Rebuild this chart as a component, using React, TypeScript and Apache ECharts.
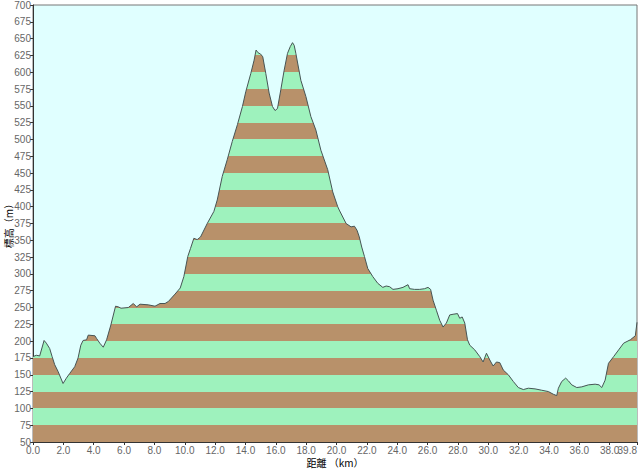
import React, { useEffect, useRef } from "react";
import * as echarts from "echarts";

const distances = [
  0.0, 0.22, 0.44, 0.73, 0.88, 1.1, 1.26, 1.43, 1.65, 1.98, 2.2, 2.42, 2.75, 2.97, 3.15, 3.3, 3.53, 3.64,
  4.08, 4.19, 4.4, 4.63, 4.85, 5.13, 5.44, 5.62, 5.8, 6.28, 6.61, 6.83, 7.05, 7.6, 8.04, 8.37, 8.7, 8.92,
  9.36, 9.7, 9.94, 10.2, 10.38, 10.6, 10.82, 11.04, 11.48, 11.92, 12.14, 12.47, 12.8, 13.13, 13.47, 13.8,
  14.02, 14.35, 14.57, 14.7, 14.83, 15.0, 15.14, 15.34, 15.56, 15.78, 15.95, 16.11, 16.33, 16.55, 16.77,
  16.95, 17.1, 17.21, 17.32, 17.65, 17.98, 18.31, 18.64, 18.97, 19.42, 19.75, 20.08, 20.18, 20.63, 20.96,
  21.18, 21.35, 21.5, 21.66, 21.84, 22.06, 22.39, 22.72, 23.05, 23.27, 23.5, 23.72, 24.05, 24.38, 24.71,
  24.82, 25.14, 25.48, 25.8, 26.03, 26.2, 26.36, 26.58, 26.8, 27.02, 27.24, 27.46, 27.68, 27.97, 28.12,
  28.28, 28.45, 28.63, 28.78, 29.11, 29.44, 29.66, 29.88, 30.1, 30.32, 30.54, 30.76, 30.99, 31.32, 31.65,
  31.98, 32.31, 32.64, 33.08, 33.52, 33.96, 34.29, 34.51, 34.62, 34.84, 35.1, 35.28, 35.5, 35.83, 36.16,
  36.6, 37.04, 37.3, 37.48, 37.7, 37.92, 38.26, 38.59, 38.92, 39.36, 39.69, 39.8,
];

const elevations = [
  177, 179, 178, 201, 197, 189, 177, 165, 155, 137, 145, 152, 162, 175, 194, 201, 202, 209,
  208, 204, 197, 191, 202, 224, 252, 251, 249, 250, 256, 251, 255, 254, 252, 256, 256, 259,
  270, 279, 296, 326, 338, 353, 351, 355, 375, 393, 410, 445, 470, 497, 522, 549,
  571, 598, 618, 633, 629, 627, 623, 598, 569, 549, 543, 546, 574, 603, 628,
  638, 644, 640, 628, 588, 564, 534, 514, 484, 455, 422, 400, 395, 375, 370,
  371, 365, 355, 340, 326, 308, 296, 286, 280, 282, 281, 277, 278, 280, 284,
  278, 277, 277, 278, 280, 277, 261, 246, 231, 221, 227, 239, 240, 241, 234,
  236, 227, 202, 194, 187, 177, 169, 182, 172, 163, 169, 168, 157, 150, 140,
  131, 128, 130, 129, 127, 125, 121, 119, 130, 140, 145, 141, 135, 131, 132,
  135, 136, 135, 131, 142, 167, 177, 187, 197, 202, 208, 228,
];

const xTickValues = [0, 2, 4, 6, 8, 10, 12, 14, 16, 18, 20, 22, 24, 26, 28, 30, 32, 34, 36, 38];
const xEndTick = [39.8];

const yMin = 50;
const yMax = 700;
const yStep = 25;
const xMin = 0;
const xMax = 39.8;
const xStep = 2;

const BROWN = "#b8916a";
const GREEN = "#9ef2bd";

export default function App() {
  const ref = useRef<HTMLDivElement>(null);

  useEffect(() => {
    if (!ref.current) return;
    const chart = echarts.init(ref.current, undefined, { renderer: "svg" });

    const pieces: any[] = [];
    for (let v = yMin, i = 0; v < yMax; v += yStep, i++) {
      pieces.push({ gte: v, lt: v + yStep, color: i % 2 === 0 ? BROWN : GREEN });
    }

    const data = distances.map((d, i) => [d, elevations[i]]);

    const labelBase = {
      color: "#666",
      fontSize: 10,
      margin: 3,
      hideOverlap: false,
      formatter: (v: number) => v.toFixed(1),
    };

    chart.setOption({
      animation: false,
      textStyle: { fontFamily: "'Liberation Sans', 'Noto Sans CJK JP', sans-serif" },
      grid: {
        left: 33,
        right: 3,
        top: 5,
        bottom: 27,
        show: true,
        backgroundColor: "#e0ffff",
        borderColor: "#777",
        borderWidth: 1,
        containLabel: false,
        outerBoundsMode: "none",
      },
      visualMap: {
        type: "piecewise",
        show: false,
        dimension: 1,
        seriesIndex: 0,
        pieces,
        outOfRange: { color: GREEN },
      },
      xAxis: [
        {
          type: "value",
          min: xMin,
          max: xMax,
          interval: xStep,
          position: "bottom",
          name: "距離 （km）",
          nameLocation: "middle",
          nameGap: 15,
          nameMoveOverlap: false,
          nameTextStyle: { color: "#000", fontSize: 10, fontFamily: "'Noto Sans CJK JP', sans-serif" },
          axisLine: { show: true, lineStyle: { color: "#333", width: 1 } },
          axisTick: { show: true, length: 3, lineStyle: { color: "#333" }, customValues: xTickValues },
          axisLabel: { ...labelBase, customValues: xTickValues, showMaxLabel: true, showMinLabel: true },
          splitLine: { show: false },
        },
        {
          type: "value",
          min: xMin,
          max: xMax,
          interval: xStep,
          position: "bottom",
          axisLine: { show: false },
          axisTick: { show: true, length: 3, lineStyle: { color: "#333" }, customValues: xEndTick },
          axisLabel: { ...labelBase, customValues: xEndTick, showMaxLabel: true, align: "right" },
          splitLine: { show: false },
        },
      ],
      yAxis: {
        type: "value",
        min: yMin,
        max: yMax,
        interval: yStep,
        name: "標高（m）",
        nameLocation: "middle",
        nameGap: 20,
        nameMoveOverlap: false,
        nameRotate: 90,
        nameTextStyle: { color: "#000", fontSize: 10, fontFamily: "'Noto Sans CJK JP', sans-serif" },
        axisLine: { show: true, lineStyle: { color: "#333", width: 1 } },
        axisTick: { show: true, length: 3, lineStyle: { color: "#333" } },
        axisLabel: { color: "#666", fontSize: 10, margin: 2 },
        splitLine: { show: false },
      },
      series: [
        {
          type: "line",
          xAxisIndex: 0,
          data,
          showSymbol: false,
          symbol: "none",
          smooth: false,
          lineStyle: { color: "#465454", width: 1 },
          areaStyle: { opacity: 1 },
        },
      ],
    });

    return () => chart.dispose();
  }, []);

  return (
    <div
      ref={ref}
      style={{ position: "fixed", left: 0, top: 0, width: 640, height: 469, background: "#fff" }}
    />
  );
}
